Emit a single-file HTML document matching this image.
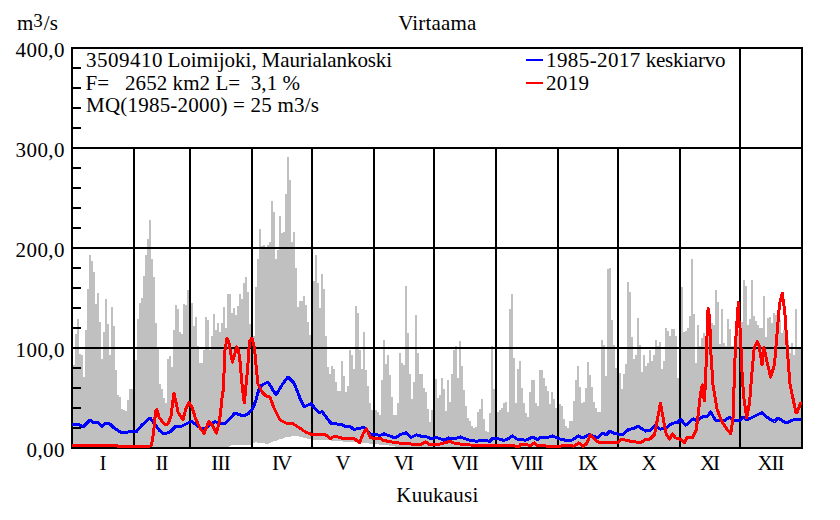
<!DOCTYPE html>
<html><head><meta charset="utf-8"><style>
html,body{margin:0;padding:0;background:#fff;}
svg{display:block;}
text{font-family:"Liberation Serif",serif;font-size:21px;fill:#000;}
</style></head><body>
<svg width="840" height="520" viewBox="0 0 840 520">
<rect width="840" height="520" fill="#fff"/>
<path d="M73,365h2V448h-2ZM75,334h2V448h-2ZM77,319h2V448h-2ZM79,354h2V448h-2ZM81,355h2V448h-2ZM83,377h2V448h-2ZM85,330h2V448h-2ZM87,289h2V448h-2ZM89,255h2V448h-2ZM91,261h2V448h-2ZM93,272h2V448h-2ZM95,304h2V448h-2ZM97,293h2V448h-2ZM99,322h2V448h-2ZM101,359h2V448h-2ZM103,332h2V448h-2ZM105,299h2V448h-2ZM107,324h2V448h-2ZM109,355h2V448h-2ZM111,307h2V448h-2ZM113,326h2V448h-2ZM115,370h2V448h-2ZM117,395h2V448h-2ZM119,397h2V448h-2ZM121,409h2V448h-2ZM123,410h2V448h-2ZM125,411h2V448h-2ZM127,400h2V448h-2ZM129,389h2V448h-2ZM131,389h2V448h-2ZM133,389h2V448h-2ZM135,360h2V448h-2ZM137,319h2V448h-2ZM139,303h2V448h-2ZM141,298h2V448h-2ZM143,276h2V448h-2ZM145,255h2V448h-2ZM147,239h2V448h-2ZM149,220h2V448h-2ZM151,259h2V448h-2ZM153,277h2V448h-2ZM155,323h2V448h-2ZM157,348h2V448h-2ZM159,384h2V448h-2ZM161,389h2V448h-2ZM163,398h2V448h-2ZM165,403h2V448h-2ZM167,359h2V448h-2ZM169,356h2V448h-2ZM171,367h2V448h-2ZM173,330h2V448h-2ZM175,305h2V448h-2ZM177,309h2V448h-2ZM179,332h2V448h-2ZM181,334h2V448h-2ZM183,304h2V448h-2ZM185,305h2V448h-2ZM187,290h2V448h-2ZM189,303h2V448h-2ZM191,303h2V448h-2ZM193,326h2V448h-2ZM195,317h2V448h-2ZM197,346h2V448h-2ZM199,363h2V448h-2ZM201,363h2V448h-2ZM203,350h2V448h-2ZM205,317h2V448h-2ZM207,320h2V448h-2ZM209,350h2V448h-2ZM211,336h2V448h-2ZM213,314h2V448h-2ZM215,330h2V448h-2ZM217,323h2V448h-2ZM219,332h2V448h-2ZM221,323h2V448h-2ZM223,307h2V448h-2ZM225,328h2V448h-2ZM227,294h2V448h-2ZM229,294h2V446h-2ZM231,313h2V445h-2ZM233,308h2V445h-2ZM235,315h2V445h-2ZM237,306h2V445h-2ZM239,294h2V445h-2ZM241,299h2V445h-2ZM243,283h2V445h-2ZM245,277h2V445h-2ZM247,292h2V445h-2ZM249,324h2V445h-2ZM251,330h2V444h-2ZM253,336h2V443h-2ZM255,287h2V442h-2ZM257,259h2V443h-2ZM259,229h2V443h-2ZM261,246h2V443h-2ZM263,245h2V443h-2ZM265,248h2V444h-2ZM267,245h2V444h-2ZM269,242h2V443h-2ZM271,201h2V442h-2ZM273,212h2V441h-2ZM275,259h2V441h-2ZM277,250h2V440h-2ZM279,216h2V439h-2ZM281,233h2V439h-2ZM283,232h2V438h-2ZM285,194h2V437h-2ZM287,157h2V437h-2ZM289,180h2V437h-2ZM291,242h2V436h-2ZM293,232h2V436h-2ZM295,268h2V436h-2ZM297,307h2V436h-2ZM299,301h2V437h-2ZM301,301h2V437h-2ZM303,296h2V438h-2ZM305,305h2V438h-2ZM307,322h2V439h-2ZM309,335h2V439h-2ZM311,300h2V440h-2ZM313,281h2V440h-2ZM315,255h2V440h-2ZM317,283h2V440h-2ZM319,308h2V440h-2ZM321,274h2V440h-2ZM323,289h2V440h-2ZM325,336h2V440h-2ZM327,367h2V440h-2ZM329,374h2V440h-2ZM331,366h2V441h-2ZM333,369h2V441h-2ZM335,382h2V441h-2ZM337,391h2V441h-2ZM339,391h2V441h-2ZM341,361h2V441h-2ZM343,376h2V442h-2ZM345,392h2V442h-2ZM347,386h2V442h-2ZM349,350h2V442h-2ZM351,355h2V442h-2ZM353,369h2V442h-2ZM355,306h2V442h-2ZM357,313h2V443h-2ZM359,350h2V443h-2ZM361,369h2V443h-2ZM363,332h2V443h-2ZM365,370h2V443h-2ZM367,386h2V443h-2ZM369,403h2V444h-2ZM371,410h2V444h-2ZM373,410h2V444h-2ZM375,410h2V444h-2ZM377,412h2V444h-2ZM379,415h2V445h-2ZM381,380h2V445h-2ZM383,340h2V445h-2ZM385,364h2V445h-2ZM387,355h2V445h-2ZM389,375h2V446h-2ZM391,397h2V446h-2ZM393,415h2V446h-2ZM395,415h2V447h-2ZM397,403h2V448h-2ZM399,353h2V448h-2ZM401,363h2V448h-2ZM403,365h2V448h-2ZM405,286h2V448h-2ZM407,333h2V448h-2ZM409,374h2V448h-2ZM411,399h2V448h-2ZM413,382h2V448h-2ZM415,315h2V448h-2ZM417,353h2V448h-2ZM419,374h2V448h-2ZM421,374h2V448h-2ZM423,388h2V448h-2ZM425,392h2V448h-2ZM427,409h2V448h-2ZM429,422h2V448h-2ZM431,410h2V448h-2ZM433,400h2V448h-2ZM435,379h2V448h-2ZM437,398h2V448h-2ZM439,395h2V448h-2ZM441,378h2V448h-2ZM443,389h2V448h-2ZM445,411h2V448h-2ZM447,380h2V448h-2ZM449,402h2V448h-2ZM451,374h2V448h-2ZM453,350h2V448h-2ZM455,346h2V448h-2ZM457,378h2V448h-2ZM459,341h2V448h-2ZM461,366h2V448h-2ZM463,390h2V448h-2ZM465,406h2V448h-2ZM467,418h2V448h-2ZM469,421h2V448h-2ZM471,426h2V448h-2ZM473,428h2V448h-2ZM475,427h2V448h-2ZM477,412h2V448h-2ZM479,409h2V448h-2ZM481,399h2V448h-2ZM483,419h2V448h-2ZM485,431h2V448h-2ZM487,432h2V448h-2ZM489,413h2V448h-2ZM491,346h2V448h-2ZM493,389h2V448h-2ZM495,400h2V448h-2ZM497,412h2V448h-2ZM499,410h2V448h-2ZM501,408h2V448h-2ZM503,403h2V448h-2ZM505,402h2V448h-2ZM507,412h2V448h-2ZM509,309h2V448h-2ZM511,294h2V448h-2ZM513,358h2V448h-2ZM515,403h2V448h-2ZM517,369h2V448h-2ZM519,361h2V448h-2ZM521,388h2V448h-2ZM523,403h2V448h-2ZM525,413h2V448h-2ZM527,417h2V448h-2ZM529,392h2V448h-2ZM531,380h2V448h-2ZM533,380h2V448h-2ZM535,403h2V448h-2ZM537,406h2V448h-2ZM539,370h2V448h-2ZM541,370h2V448h-2ZM543,378h2V448h-2ZM545,386h2V448h-2ZM547,391h2V448h-2ZM549,404h2V448h-2ZM551,392h2V448h-2ZM553,399h2V448h-2ZM555,408h2V448h-2ZM557,405h2V448h-2ZM559,404h2V448h-2ZM561,406h2V448h-2ZM563,419h2V448h-2ZM565,426h2V448h-2ZM567,428h2V448h-2ZM569,421h2V448h-2ZM571,421h2V448h-2ZM573,401h2V448h-2ZM575,380h2V448h-2ZM577,366h2V448h-2ZM579,387h2V448h-2ZM581,403h2V448h-2ZM583,402h2V448h-2ZM585,388h2V448h-2ZM587,362h2V448h-2ZM589,375h2V448h-2ZM591,387h2V448h-2ZM593,402h2V448h-2ZM595,408h2V448h-2ZM597,412h2V448h-2ZM599,412h2V448h-2ZM601,340h2V448h-2ZM603,345h2V448h-2ZM605,376h2V448h-2ZM607,269h2V448h-2ZM609,268h2V448h-2ZM611,320h2V448h-2ZM613,345h2V448h-2ZM615,368h2V448h-2ZM617,360h2V448h-2ZM619,373h2V448h-2ZM621,389h2V448h-2ZM623,374h2V448h-2ZM625,364h2V448h-2ZM627,282h2V448h-2ZM629,292h2V448h-2ZM631,337h2V448h-2ZM633,359h2V448h-2ZM635,355h2V448h-2ZM637,318h2V448h-2ZM639,345h2V448h-2ZM641,372h2V448h-2ZM643,355h2V448h-2ZM645,366h2V448h-2ZM647,363h2V448h-2ZM649,350h2V448h-2ZM651,361h2V448h-2ZM653,355h2V448h-2ZM655,340h2V448h-2ZM657,346h2V448h-2ZM659,342h2V448h-2ZM661,369h2V448h-2ZM663,361h2V448h-2ZM665,328h2V448h-2ZM667,331h2V448h-2ZM669,336h2V448h-2ZM671,329h2V448h-2ZM673,329h2V448h-2ZM675,336h2V448h-2ZM677,378h2V448h-2ZM679,300h2V448h-2ZM681,287h2V448h-2ZM683,332h2V448h-2ZM685,331h2V448h-2ZM687,328h2V448h-2ZM689,316h2V448h-2ZM691,259h2V448h-2ZM693,314h2V448h-2ZM695,363h2V448h-2ZM697,325h2V448h-2ZM699,346h2V448h-2ZM701,338h2V448h-2ZM703,333h2V448h-2ZM705,336h2V448h-2ZM707,330h2V448h-2ZM709,330h2V448h-2ZM711,323h2V448h-2ZM713,325h2V448h-2ZM715,290h2V448h-2ZM717,302h2V448h-2ZM719,344h2V448h-2ZM721,309h2V448h-2ZM723,343h2V448h-2ZM725,346h2V448h-2ZM727,319h2V448h-2ZM729,329h2V448h-2ZM731,346h2V448h-2ZM733,346h2V448h-2ZM735,330h2V448h-2ZM737,330h2V448h-2ZM739,320h2V448h-2ZM741,322h2V448h-2ZM743,280h2V448h-2ZM745,286h2V448h-2ZM747,325h2V448h-2ZM749,319h2V448h-2ZM751,280h2V448h-2ZM753,316h2V448h-2ZM755,321h2V448h-2ZM757,325h2V448h-2ZM759,328h2V448h-2ZM761,328h2V448h-2ZM763,296h2V448h-2ZM765,337h2V448h-2ZM767,318h2V448h-2ZM769,317h2V448h-2ZM771,323h2V448h-2ZM773,313h2V448h-2ZM775,315h2V448h-2ZM777,320h2V448h-2ZM779,320h2V448h-2ZM781,333h2V448h-2ZM783,330h2V448h-2ZM785,335h2V448h-2ZM787,340h2V448h-2ZM789,353h2V448h-2ZM791,343h2V448h-2ZM793,355h2V448h-2ZM795,309h2V448h-2ZM797,348h2V448h-2ZM799,349h2V448h-2Z" fill="#c0c0c0" shape-rendering="crispEdges"/>
<g stroke="#000" stroke-width="2" shape-rendering="crispEdges">
<line x1="71" y1="348" x2="803" y2="348"/><line x1="71" y1="248" x2="803" y2="248"/><line x1="71" y1="148" x2="803" y2="148"/><line x1="134" y1="148" x2="134" y2="448"/><line x1="190" y1="148" x2="190" y2="448"/><line x1="252" y1="148" x2="252" y2="448"/><line x1="312" y1="148" x2="312" y2="448"/><line x1="374" y1="148" x2="374" y2="448"/><line x1="434" y1="148" x2="434" y2="448"/><line x1="496" y1="148" x2="496" y2="448"/><line x1="558" y1="148" x2="558" y2="448"/><line x1="618" y1="148" x2="618" y2="448"/><line x1="680" y1="148" x2="680" y2="448"/><line x1="740" y1="48" x2="740" y2="448"/>
<line x1="73" y1="428" x2="81" y2="428"/><line x1="73" y1="408" x2="81" y2="408"/><line x1="73" y1="388" x2="81" y2="388"/><line x1="73" y1="368" x2="81" y2="368"/><line x1="73" y1="328" x2="81" y2="328"/><line x1="73" y1="308" x2="81" y2="308"/><line x1="73" y1="288" x2="81" y2="288"/><line x1="73" y1="268" x2="81" y2="268"/><line x1="73" y1="228" x2="81" y2="228"/><line x1="73" y1="208" x2="81" y2="208"/><line x1="73" y1="188" x2="81" y2="188"/><line x1="73" y1="168" x2="81" y2="168"/><line x1="73" y1="128" x2="81" y2="128"/><line x1="73" y1="108" x2="81" y2="108"/><line x1="73" y1="88" x2="81" y2="88"/><line x1="73" y1="68" x2="81" y2="68"/>
<rect x="72" y="48" width="730" height="400" fill="none"/>
</g>
<polyline points="72.0,424.0 78.0,424.0 83.0,427.0 90.0,420.0 94.0,423.0 98.0,422.6 102.0,426.6 106.0,423.0 110.0,424.0 114.0,428.0 122.0,433.0 128.0,432.0 132.0,431.0 136.0,432.0 142.0,425.0 150.0,418.0 154.0,423.0 159.0,430.0 164.0,434.0 170.0,432.0 176.0,426.0 180.0,427.0 184.8,424.6 191.5,421.3 197.3,425.6 203.0,429.4 208.8,425.6 214.6,421.7 220.4,423.0 225.2,423.7 230.0,418.4 235.0,413.0 243.0,416.0 248.0,414.0 253.0,408.0 256.0,400.0 259.0,389.0 262.0,385.0 268.0,382.0 276.0,395.0 282.0,385.0 288.0,377.0 294.0,383.0 300.0,398.2 304.3,406.8 310.7,403.6 319.3,412.7 322.0,411.6 331.1,423.4 341.8,424.5 345.0,426.6 349.8,426.1 354.1,429.8 358.4,428.2 364.3,427.7 370.7,434.1 379.3,435.2 380.0,435.4 383.8,433.8 389.6,435.9 395.5,438.0 399.8,434.8 405.7,432.7 411.0,437.5 416.4,434.8 421.8,436.4 427.2,437.0 430.9,438.6 436.8,437.5 444.3,440.2 448.6,438.0 455.0,438.6 460.4,437.0 465.7,439.0 470.0,440.2 476.4,441.3 481.8,440.2 489.8,441.3 493.0,438.0 497.9,438.6 503.2,440.2 507.0,439.7 512.3,435.9 517.2,439.1 525.7,440.2 532.7,437.0 537.5,439.7 540.7,437.5 547.2,437.5 552.5,435.9 560.0,439.1 565.4,440.2 571.8,440.2 578.2,435.9 583.0,438.0 588.9,434.8 597.5,437.5 602.9,433.2 606.1,434.8 609.8,431.1 613.6,433.2 622.2,434.8 628.6,429.5 634.0,428.4 638.2,426.3 645.7,431.1 650.0,430.5 654.6,425.8 660.4,429.2 666.1,428.0 671.9,423.4 677.7,422.3 680.6,419.4 685.8,425.2 693.3,418.8 697.3,421.1 701.9,417.1 707.7,416.0 710.6,411.9 715.7,420.6 723.8,421.1 729.6,417.1 733.0,420.6 740.0,420.6 743.0,417.0 746.7,420.0 753.0,417.0 762.0,412.6 768.0,418.0 774.5,421.5 778.0,418.0 786.0,423.0 793.0,420.0 797.0,419.0 801.0,420.0" fill="none" stroke="#0000ff" stroke-width="3" stroke-linejoin="round" shape-rendering="crispEdges"/>
<polyline points="72.0,445.4 117.0,445.4 118.0,446.4 149.0,446.4 151.0,445.5 152.5,440.7 154.1,426.8 155.7,410.7 156.8,409.6 159.0,417.0 164.0,424.0 168.0,424.0 171.0,416.0 174.0,393.0 178.0,412.0 182.9,419.8 185.8,409.0 188.7,402.5 191.5,406.0 195.4,418.0 199.2,426.5 204.0,433.3 208.8,421.7 212.7,425.6 216.5,433.3 219.4,421.7 220.9,409.0 222.3,394.8 223.3,390.0 225.0,350.0 227.0,338.5 229.0,343.0 231.0,355.0 232.5,362.0 234.5,355.0 236.5,347.0 238.5,350.0 240.5,365.0 241.5,380.0 244.3,403.0 247.5,370.0 249.5,341.0 252.0,338.0 254.5,348.0 256.0,365.0 258.0,384.0 262.0,392.0 266.0,396.0 270.0,397.0 274.0,408.0 280.0,420.0 286.0,423.0 292.0,423.0 298.0,427.0 300.0,428.2 305.4,432.0 310.7,434.1 324.7,434.1 330.5,438.4 334.3,436.3 337.5,436.8 342.9,438.4 354.7,439.0 359.5,442.7 363.2,433.6 366.5,428.8 370.7,437.9 379.3,438.4 380.0,438.0 383.2,440.2 389.6,441.8 396.0,442.3 402.5,443.9 407.9,443.4 415.4,445.0 420.7,444.5 425.5,441.8 430.4,445.0 437.9,444.5 444.3,442.9 449.7,441.3 455.0,443.4 463.6,444.5 470.0,445.0 519.3,446.1 520.4,444.5 526.8,444.5 530.0,446.0 534.3,442.9 537.5,446.0 544.0,445.0 547.2,446.6 560.0,446.1 566.4,445.5 573.9,446.1 578.8,442.9 583.0,446.1 586.3,443.9 590.5,434.8 597.5,441.8 602.9,442.9 608.2,442.3 616.8,442.9 622.2,439.1 627.5,440.7 635.0,441.8 640.4,442.9 645.7,439.1 650.0,439.1 654.6,434.4 657.5,418.8 660.4,403.3 663.3,418.8 666.1,433.8 669.6,439.0 672.5,433.8 675.4,437.9 678.8,438.4 684.6,442.5 686.9,437.9 692.7,437.3 696.1,430.4 698.4,413.0 699.6,401.5 701.5,387.0 702.5,385.0 704.2,401.0 705.4,385.0 706.6,350.0 707.5,320.0 708.1,308.0 709.2,315.0 710.2,332.0 710.9,353.4 713.0,385.0 716.9,408.5 721.5,421.1 726.1,428.0 730.7,433.8 733.0,418.8 734.1,385.0 735.2,353.4 736.2,332.3 738.3,302.7 738.9,320.0 740.5,332.0 741.5,364.0 743.7,397.0 746.6,417.5 749.5,403.0 752.3,368.5 754.3,347.3 757.2,341.5 759.0,345.4 762.0,364.6 763.9,347.3 766.8,360.8 770.6,377.0 774.5,364.6 778.0,322.5 779.5,304.5 782.2,293.0 784.7,310.5 786.2,333.0 787.7,355.5 790.0,384.0 796.0,413.0 797.0,412.6 801.0,402.0" fill="none" stroke="#ff0000" stroke-width="3" stroke-linejoin="round" shape-rendering="crispEdges"/>
<text x="437.3" y="30" text-anchor="middle" textLength="78" lengthAdjust="spacing">Virtaama</text>
<text x="17" y="30">m<tspan font-size="19" dy="-3.5">3</tspan><tspan dy="3.5" dx="1">/s</tspan></text>
<text x="64.5" y="57" text-anchor="end" textLength="49" lengthAdjust="spacing">400,0</text><text x="64.5" y="157" text-anchor="end" textLength="49" lengthAdjust="spacing">300,0</text><text x="64.5" y="257" text-anchor="end" textLength="49" lengthAdjust="spacing">200,0</text><text x="64.5" y="357" text-anchor="end" textLength="49" lengthAdjust="spacing">100,0</text><text x="64.5" y="457" text-anchor="end" textLength="38" lengthAdjust="spacing">0,00</text>
<text x="103.0" y="470" text-anchor="middle">I</text><text x="162.0" y="470" text-anchor="middle" textLength="12.9" lengthAdjust="spacing">II</text><text x="221.0" y="470" text-anchor="middle" textLength="19.4" lengthAdjust="spacing">III</text><text x="282.0" y="470" text-anchor="middle" textLength="20.2" lengthAdjust="spacing">IV</text><text x="343.0" y="470" text-anchor="middle">V</text><text x="404.0" y="470" text-anchor="middle" textLength="20.2" lengthAdjust="spacing">VI</text><text x="465.0" y="470" text-anchor="middle" textLength="27.3" lengthAdjust="spacing">VII</text><text x="527.0" y="470" text-anchor="middle" textLength="33.6" lengthAdjust="spacing">VIII</text><text x="588.0" y="470" text-anchor="middle" textLength="20.2" lengthAdjust="spacing">IX</text><text x="649.0" y="470" text-anchor="middle">X</text><text x="710.0" y="470" text-anchor="middle" textLength="20.1" lengthAdjust="spacing">XI</text><text x="771.0" y="470" text-anchor="middle" textLength="27.0" lengthAdjust="spacing">XII</text>
<text x="437.3" y="502" text-anchor="middle" textLength="82" lengthAdjust="spacing">Kuukausi</text>
<text y="67"><tspan x="86" letter-spacing="0.5">3509410</tspan><tspan x="167.4">Loimijoki,</tspan><tspan x="261.6" letter-spacing="-0.1">Maurialankoski</tspan></text>
<text x="85.5" y="90" xml:space="preserve" textLength="214.5" lengthAdjust="spacing">F=   2652 km2 L=  3,1 %</text>
<text x="86" y="112" textLength="233" lengthAdjust="spacing">MQ(1985-2000) = 25 m3/s</text>
<line x1="526" y1="60" x2="543" y2="60" stroke="#0000ff" stroke-width="2" shape-rendering="crispEdges"/>
<line x1="526" y1="83" x2="543" y2="83" stroke="#ff0000" stroke-width="2" shape-rendering="crispEdges"/>
<text y="67"><tspan x="546" letter-spacing="0.42">1985-2017</tspan><tspan x="645.8" letter-spacing="-0.25">keskiarvo</tspan></text>
<text x="546" y="90" textLength="43" lengthAdjust="spacing">2019</text>
</svg>
</body></html>
